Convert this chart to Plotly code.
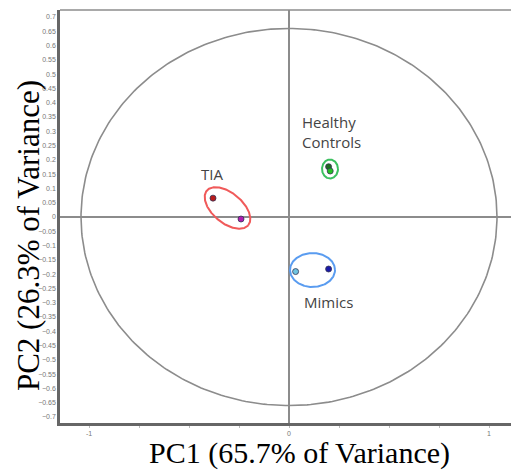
import numpy as np
import plotly.graph_objects as go

# ---- data (PC1, PC2 scores) ----
groups = ["TIA", "Healthy Controls", "Mimics"]
tia_x = [-0.38, -0.24]
tia_y = [0.066, -0.007]
tia_colors = ["#b81c1c", "#b01cb0"]
hc_x = [0.198, 0.206]
hc_y = [0.176, 0.161]
hc_colors = ["#1e6b1e", "#22c022"]
mim_x = [0.033, 0.198]
mim_y = [-0.191, -0.182]
mim_colors = ["#6ec3e0", "#1a1aa8"]

# group ellipses: centre x, centre y, semi-major, semi-minor (PC1 units), angle (deg)
ell_cx = [-0.3075, 0.205, 0.1175]
ell_cy = [0.0315, 0.168, -0.1855]
ell_a = [0.135, 0.040, 0.1125]
ell_b = [0.075, 0.0475, 0.085]
ell_ang = [-40, 0, 0]
ell_colors = ["#f05a5a", "#3cc060", "#5a9cf0"]

# correlation circle (semi-axes in data units)
circ_rx = 1.04
circ_ry = 0.66

y_ticks = [round(v, 2) for v in np.arange(-0.7, 0.7001, 0.05)]
x_ticks = [-1, -0.75, -0.5, -0.25, 0, 0.25, 0.5, 0.75, 1]
x_tick_text = ["-1", "", "", "", "0", "", "", "", "1"]

x_range = [-1.145, 1.11]
y_range = [-0.721, 0.7245]
aspect = 285.7 / 200.0  # px per y unit / px per x unit

fig = go.Figure()

t = np.linspace(0, 2 * np.pi, 361)
fig.add_trace(go.Scatter(x=circ_rx * np.cos(t), y=circ_ry * np.sin(t), mode="lines",
                         line=dict(color="#8c8c8c", width=1.6), hoverinfo="skip", showlegend=False))

for cx, cy, a, b, ang, col in zip(ell_cx, ell_cy, ell_a, ell_b, ell_ang, ell_colors):
    p = np.deg2rad(ang)
    ex = cx + a * np.cos(p) * np.cos(t) - b * np.sin(p) * np.sin(t)
    ey = cy + (a * np.sin(p) * np.cos(t) + b * np.cos(p) * np.sin(t)) / aspect
    fig.add_trace(go.Scatter(x=ex, y=ey, mode="lines", line=dict(color=col, width=2),
                             hoverinfo="skip", showlegend=False))

for xs, ys, cols in [(tia_x, tia_y, tia_colors), (hc_x, hc_y, hc_colors), (mim_x, mim_y, mim_colors)]:
    fig.add_trace(go.Scatter(x=xs, y=ys, mode="markers",
                             marker=dict(color=cols, size=6, line=dict(color="#333355", width=0.8)),
                             showlegend=False))

lab_font = dict(family="Open Sans", size=15, color="#444444")
fig.add_annotation(x=-0.3865, y=0.15, text="TIA", showarrow=False, font=lab_font)
fig.add_annotation(x=0.2125, y=0.299, text="Healthy<br>Controls", showarrow=False, font=lab_font, align="left")
fig.add_annotation(x=0.1975, y=-0.2975, text="Mimics", showarrow=False, font=lab_font)

fig.add_annotation(xref="paper", yref="paper", x=-0.071, y=0.455, text="PC2 (26.3% of Variance)",
                   textangle=-90, showarrow=False,
                   font=dict(family="Liberation Serif", size=31, color="#000000"),
                   xanchor="center", yanchor="middle")
fig.add_annotation(xref="paper", yref="paper", x=0.53, y=-0.0738, text="PC1 (65.7% of Variance)",
                   showarrow=False,
                   font=dict(family="Liberation Serif", size=30, color="#000000"),
                   xanchor="center", yanchor="middle", borderpad=0)

# top frame line
fig.add_shape(type="line", xref="paper", yref="paper", x0=0, x1=1, y0=1, y1=1,
              line=dict(color="#8c8c8c", width=1.5))

fig.update_xaxes(range=x_range, tickvals=x_ticks, ticktext=x_tick_text, ticks="outside", ticklen=2,
                 tickcolor="#bbbbbb", tickfont=dict(family="Liberation Sans", size=7, color="#777777"),
                 showgrid=False, zeroline=True, zerolinecolor="#8c8c8c", zerolinewidth=1.5,
                 showline=True, linecolor="#666666", linewidth=2.5)
fig.update_yaxes(range=y_range, tickvals=y_ticks, ticks="", ticklen=0,
                 tickfont=dict(family="Liberation Sans", size=7, color="#777777"),
                 showgrid=False, zeroline=True, zerolinecolor="#8c8c8c", zerolinewidth=1.5,
                 showline=True, linecolor="#666666", linewidth=2.5)

fig.update_layout(width=511, height=470, margin=dict(l=60, r=0, t=10, b=47),
                  plot_bgcolor="white", paper_bgcolor="white", showlegend=False)

fig.write_html("out.html")
